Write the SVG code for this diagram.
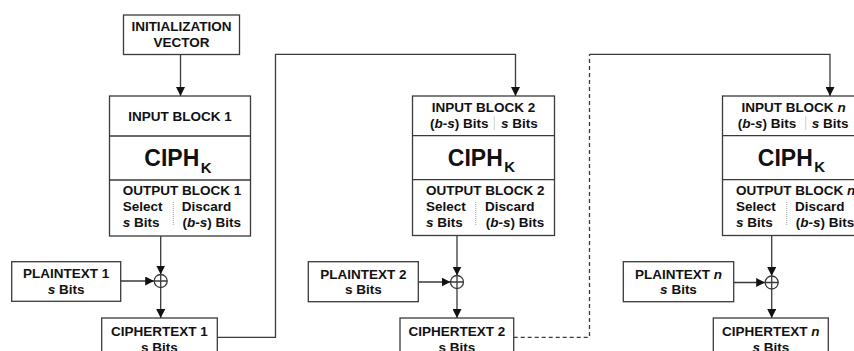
<svg xmlns="http://www.w3.org/2000/svg" width="854" height="351" viewBox="0 0 854 351">
  <style>
    .box { fill: #ffffff; stroke: #3a3a3a; stroke-width: 1.3; }
    .row { stroke: #3a3a3a; stroke-width: 1.3; fill: none; }
    .sep { stroke: #b0b0b0; stroke-width: 1.2; stroke-dasharray: 1 1; fill: none; }
    .t { font-family: "Liberation Sans", Arial, sans-serif; font-weight: bold; font-size: 13.5px; fill: #111111; }
    .c { text-anchor: middle; }
    .ciph { font-family: "Liberation Sans", Arial, sans-serif; font-weight: bold; font-size: 23px; fill: #111111; text-anchor: middle; }
    .wire { stroke: #3a3a3a; stroke-width: 1.3; fill: none; }
    .dash { stroke-dasharray: 4 3; }
    .xor { fill: #ffffff; stroke: #3a3a3a; stroke-width: 1.3; }
  </style>
  <defs>
    <marker id="arrow" viewBox="0 0 10 10" refX="10" refY="5" markerWidth="9" markerHeight="9" markerUnits="userSpaceOnUse" orient="auto">
      <path d="M0,0 L10,5 L0,10 z" fill="#111111"/>
    </marker>
  </defs>

  <rect width="854" height="351" fill="#ffffff"/>

  <!-- connectors -->
  <g id="connectors">
    <!-- IV into first input block -->
    <path class="wire" d="M180.5,54.5 V96" marker-end="url(#arrow)"/>
    <!-- output blocks down to the XOR points -->
    <path class="wire" d="M160.7,236 V274.5" marker-end="url(#arrow)"/>
    <path class="wire" d="M457,236 V275.5" marker-end="url(#arrow)"/>
    <path class="wire" d="M771.7,236 V276" marker-end="url(#arrow)"/>
    <!-- plaintexts into the XOR points -->
    <path class="wire" d="M120.7,281 H154.2" marker-end="url(#arrow)"/>
    <path class="wire" d="M418.3,282 H450.5" marker-end="url(#arrow)"/>
    <path class="wire" d="M733.7,282.5 H765.2" marker-end="url(#arrow)"/>
    <!-- XOR results down to the ciphertexts -->
    <path class="wire" d="M160.7,287.5 V318" marker-end="url(#arrow)"/>
    <path class="wire" d="M457,288.5 V318" marker-end="url(#arrow)"/>
    <path class="wire" d="M771.7,289 V318" marker-end="url(#arrow)"/>
    <!-- ciphertext 1 feeds input block 2 -->
    <path class="wire" d="M217.3,337.3 H275.5 V54.3 H515.5 V96" marker-end="url(#arrow)"/>
    <!-- ciphertext 2 ... feeds input block n -->
    <path class="wire dash" d="M513.7,337.3 H589.5 V54.3"/>
    <path class="wire" d="M589.5,54.3 H830 V96" marker-end="url(#arrow)"/>
  </g>

  <!-- initialization vector -->
  <g id="iv">
    <rect class="box" x="123.5" y="15" width="116" height="39.5"/>
    <text class="t c" x="181.5" y="30.5">INITIALIZATION</text>
    <text class="t c" x="181.5" y="46.5">VECTOR</text>
  </g>

  <!-- block 1 -->
  <g id="block1">
    <rect class="box" x="109.5" y="96" width="141" height="140"/>
    <path class="row" d="M109.5,136 H250.5 M109.5,180 H250.5"/>
    <text class="t c" x="180" y="120.5">INPUT BLOCK 1</text>
    <text class="ciph" x="178" y="166">CIPH<tspan font-size="15" dx="1.5" dy="6.5">K</tspan></text>
    <text class="t" x="122.7" y="195">OUTPUT BLOCK 1</text>
    <text class="t" x="122.7" y="211">Select</text>
    <text class="t" x="122.7" y="227.3"><tspan font-style="italic">s</tspan> Bits</text>
    <path class="sep" d="M173.3,202 V226"/>
    <text class="t" x="181.7" y="211">Discard</text>
    <text class="t" x="182.5" y="227.3">(<tspan font-style="italic">b</tspan>-<tspan font-style="italic">s</tspan>) Bits</text>
  </g>

  <!-- block 2 -->
  <g id="block2">
    <rect class="box" x="412.5" y="96" width="142" height="139.5"/>
    <path class="row" d="M412.5,135.7 H554.5 M412.5,179.7 H554.5"/>
    <text class="t c" x="483.5" y="112.3">INPUT BLOCK 2</text>
    <text class="t" x="430" y="127.5">(<tspan font-style="italic">b</tspan>-<tspan font-style="italic">s</tspan>) Bits</text>
    <path class="sep" d="M494.3,116.5 V130"/>
    <text class="t" x="501" y="127.5"><tspan font-style="italic">s</tspan> Bits</text>
    <text class="ciph" x="481.5" y="165.5">CIPH<tspan font-size="15" dx="1.5" dy="6.5">K</tspan></text>
    <text class="t" x="426" y="194.5">OUTPUT BLOCK 2</text>
    <text class="t" x="426" y="211">Select</text>
    <text class="t" x="426" y="227"><tspan font-style="italic">s</tspan> Bits</text>
    <path class="sep" d="M475.7,202 V226"/>
    <text class="t" x="485" y="211">Discard</text>
    <text class="t" x="485.7" y="227">(<tspan font-style="italic">b</tspan>-<tspan font-style="italic">s</tspan>) Bits</text>
  </g>

  <!-- block n -->
  <g id="blockn">
    <rect class="box" x="722.5" y="96" width="142" height="139.5"/>
    <path class="row" d="M722.5,135.7 H864.5 M722.5,179.7 H864.5"/>
    <text class="t c" x="793.5" y="112.3">INPUT BLOCK <tspan font-style="italic">n</tspan></text>
    <text class="t" x="737.7" y="127.5">(<tspan font-style="italic">b</tspan>-<tspan font-style="italic">s</tspan>) Bits</text>
    <path class="sep" d="M805.7,116.5 V130"/>
    <text class="t" x="811.7" y="127.5"><tspan font-style="italic">s</tspan> Bits</text>
    <text class="ciph" x="791.5" y="165.5">CIPH<tspan font-size="15" dx="1.5" dy="6.5">K</tspan></text>
    <text class="t" x="736" y="194.5">OUTPUT BLOCK <tspan font-style="italic">n</tspan></text>
    <text class="t" x="736" y="211">Select</text>
    <text class="t" x="736" y="227"><tspan font-style="italic">s</tspan> Bits</text>
    <path class="sep" d="M786.7,202 V226"/>
    <text class="t" x="795" y="211">Discard</text>
    <text class="t" x="795.7" y="227">(<tspan font-style="italic">b</tspan>-<tspan font-style="italic">s</tspan>) Bits</text>
  </g>

  <!-- plaintexts -->
  <g id="plaintext1">
    <rect class="box" x="11.7" y="261.7" width="109" height="39.6"/>
    <text class="t c" x="66.2" y="278.3">PLAINTEXT 1</text>
    <text class="t c" x="66.2" y="293.5"><tspan font-style="italic">s</tspan> Bits</text>
  </g>
  <g id="plaintext2">
    <rect class="box" x="308.3" y="261.7" width="110" height="40"/>
    <text class="t c" x="363.3" y="278.5">PLAINTEXT 2</text>
    <text class="t c" x="363.3" y="294">s Bits</text>
  </g>
  <g id="plaintextn">
    <rect class="box" x="623.3" y="261.7" width="110.4" height="40"/>
    <text class="t c" x="678.5" y="278.5">PLAINTEXT <tspan font-style="italic">n</tspan></text>
    <text class="t c" x="678.5" y="294"><tspan font-style="italic">s</tspan> Bits</text>
  </g>

  <!-- XOR points -->
  <g id="xor1">
    <circle class="xor" cx="160.7" cy="281" r="6.5"/>
    <path class="row" d="M154.2,281 H167.2 M160.7,274.5 V287.5"/>
  </g>
  <g id="xor2">
    <circle class="xor" cx="457" cy="282" r="6.5"/>
    <path class="row" d="M450.5,282 H463.5 M457,275.5 V288.5"/>
  </g>
  <g id="xorn">
    <circle class="xor" cx="771.7" cy="282.5" r="6.5"/>
    <path class="row" d="M765.2,282.5 H778.2 M771.7,276 V289"/>
  </g>

  <!-- ciphertexts -->
  <g id="ciphertext1">
    <rect class="box" x="101.7" y="318" width="115.6" height="45"/>
    <text class="t c" x="159.5" y="335.5">CIPHERTEXT 1</text>
    <text class="t c" x="159.5" y="351.5">s Bits</text>
  </g>
  <g id="ciphertext2">
    <rect class="box" x="400" y="318" width="113.7" height="45"/>
    <text class="t c" x="456.8" y="335.5">CIPHERTEXT 2</text>
    <text class="t c" x="456.8" y="351.5">s Bits</text>
  </g>
  <g id="ciphertextn">
    <rect class="box" x="713.3" y="318" width="115" height="45"/>
    <text class="t c" x="770.8" y="335.5">CIPHERTEXT <tspan font-style="italic">n</tspan></text>
    <text class="t c" x="770.8" y="351.5"><tspan font-style="italic">s</tspan> Bits</text>
  </g>
</svg>
